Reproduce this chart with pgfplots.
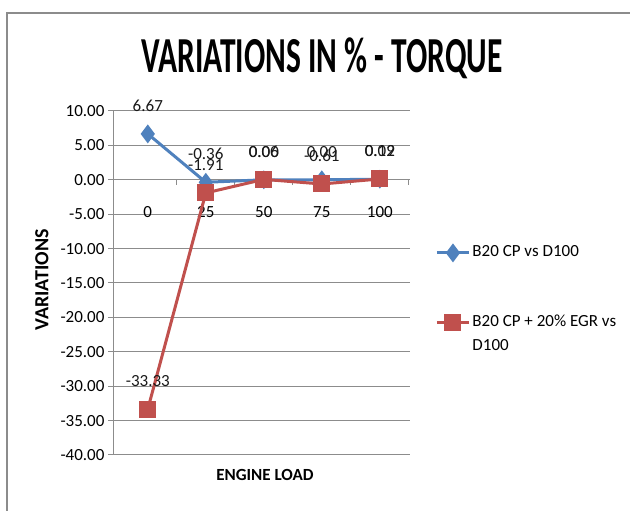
\documentclass[border=0pt]{standalone}
\usepackage{pgfplots}
\pgfplotsset{compat=1.18}
\usepackage{fontspec}
\setmainfont{Carlito}
\definecolor{exblue}{HTML}{4F81BD}
\definecolor{exred}{HTML}{C0504D}
\begin{document}
\begin{tikzpicture}
\path[use as bounding box] (0,0) rectangle (630pt,511pt);
\draw[black!45, line width=1.5pt] (7pt,-2pt) -- (7pt,498pt) -- (632pt,498pt);
\node at (322pt,453pt) {\scalebox{1}[1.6]{\fontsize{31.5}{31.5}\selectfont\bfseries VARIATIONS IN \% - TORQUE}};
\node[rotate=90, font=\bfseries\fontsize{20}{20}\selectfont] at (42pt,231pt) {VARIATIONS};
\node[font=\bfseries\fontsize{17}{17}\selectfont] at (265pt,36pt) {ENGINE LOAD};
\begin{axis}[
 at={(113pt,56pt)}, anchor=south west, scale only axis, width=297pt, height=344pt,
 xmin=-0.6, xmax=4.52, ymin=-40, ymax=10,
 axis x line=middle, axis y line=left,
 axis line style={-, black!45, line width=1pt},
 /pgf/number format/assume math mode=true,
 ytick={-40,-35,...,10},
 ymajorgrids, grid style={black!45, line width=1pt},
 tick align=outside, major tick length=5pt,
 tick style={black!45, line width=1pt},
 yticklabel style={font=\fontsize{17}{17}\selectfont, /pgf/number format/fixed, /pgf/number format/fixed zerofill, /pgf/number format/precision=2},
 xtick={0.5,1.5,2.5,3.5,4.5}, xticklabels={},
 extra x ticks={0,1,2,3,4}, extra x tick labels={0,25,50,75,100},
 extra x tick style={major tick length=0pt, xticklabel style={font=\fontsize{17}{17}\selectfont, yshift=-23pt}},
 every node near coord/.append style={font=\fontsize{17}{17}\selectfont, black!90, anchor=center, yshift=28pt, /pgf/number format/fixed, /pgf/number format/fixed zerofill, /pgf/number format/precision=2},
 legend cell align=left,
 legend style={at={(1.075,0.623)}, anchor=north west, draw=none, fill=none, font=\fontsize{17}{20}\selectfont, row sep=3.3pt,
   nodes={text height=12pt, text depth=4pt, inner sep=2pt}},
 legend image code/.code={\draw[mark repeat=2,mark phase=2,#1] plot coordinates {(0pt,0pt) (16pt,0pt) (32pt,0pt)};},
 clip=false,
]
\addplot[exblue, line width=3pt, mark=diamond*, mark size=7pt, mark options={solid}, nodes near coords] coordinates {(0,6.67) (1,-0.36) (2,0.00) (3,0.00) (4,0.09)};
\addlegendentry{B20 CP vs D100}
\addlegendimage{empty legend}
\addlegendentry{}
\addlegendimage{empty legend}
\addlegendentry{}
\addplot[exred, line width=3pt, mark=square*, mark size=7pt, mark options={solid}, nodes near coords] coordinates {(0,-33.33) (1,-1.91) (2,0.06) (3,-0.61) (4,0.12)};
\addlegendentry{B20 CP + 20\% EGR vs}
\addlegendimage{empty legend}
\addlegendentry{D100}
\end{axis}
\end{tikzpicture}
\end{document}
